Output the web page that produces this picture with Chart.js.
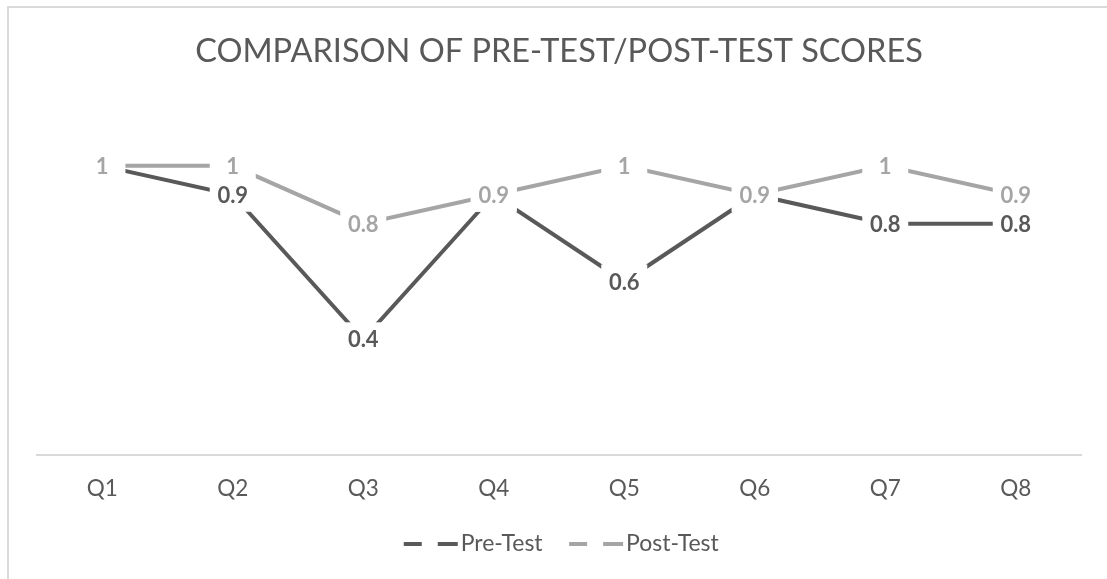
<!DOCTYPE html>
<html><head><meta charset="utf-8">
<script src="https://cdn.jsdelivr.net/npm/chart.js@4.4.1/dist/chart.umd.min.js"></script>
<style>
html,body{margin:0;padding:0;background:#fff;overflow:hidden;}
#wrap{position:relative;width:1107px;height:579px;overflow:hidden;}
#frame{position:absolute;left:7px;top:6px;width:1300px;height:800px;border:2px solid #d9d9d9;box-sizing:border-box;}
#c{position:absolute;left:0;top:0;}
</style></head><body>
<div id="wrap"><div id="frame"></div><canvas id="c" width="1107" height="579"></canvas></div>
<script>
const categories = ['Q1','Q2','Q3','Q4','Q5','Q6','Q7','Q8'];
const preTest = [1, 0.9, 0.4, 0.9, 0.6, 0.9, 0.8, 0.8];
const postTest = [1, 1, 0.8, 0.9, 1, 0.9, 1, 0.9];
const seriesNames = ['Pre-Test', 'Post-Test'];
const chartTitle = 'COMPARISON OF PRE-TEST/POST-TEST SCORES';

const PRE_COLOR = '#595959';
const POST_COLOR = '#a5a5a5';
const FONT = 'Lato';

function legendKey(color){
  const c = document.createElement('canvas');
  c.width = 73; c.height = 4;
  const g = c.getContext('2d');
  g.fillStyle = color;
  g.fillRect(16, 0, 18, 4);
  g.fillRect(50, 0, 20, 4);
  return c;
}

const dataLabels = {
  id: 'dataLabels',
  afterDatasetsDraw(chart){
    const ctx = chart.ctx;
    ctx.save();
    chart.data.datasets.forEach((ds, di) => {
      const meta = chart.getDatasetMeta(di);
      meta.data.forEach((pt, i) => {
        const x = pt.x, y = pt.y;
        ctx.fillStyle = '#ffffff';
        ctx.fillRect(x - 23, y - 17, 46, 34);
        ctx.fillStyle = ds.borderColor;
        ctx.font = 'bold 22px ' + FONT;
        ctx.textAlign = 'center';
        ctx.textBaseline = 'middle';
        ctx.fillText(String(ds.data[i]), x, y + 1);
      });
    });
    ctx.restore();
  }
};

new Chart(document.getElementById('c'), {
  type: 'line',
  data: {
    labels: categories,
    datasets: [
      { label: seriesNames[0], data: preTest, borderColor: PRE_COLOR, backgroundColor: PRE_COLOR, borderWidth: 4, pointRadius: 0, tension: 0, pointStyle: legendKey(PRE_COLOR) },
      { label: seriesNames[1], data: postTest, borderColor: POST_COLOR, backgroundColor: POST_COLOR, borderWidth: 4, pointRadius: 0, tension: 0, pointStyle: legendKey(POST_COLOR) }
    ]
  },
  options: {
    responsive: false,
    animation: false,
    devicePixelRatio: 1,
    layout: { padding: { left: 37, right: 26, top: 0, bottom: 14 } },
    scales: {
      x: {
        offset: true,
        grid: { display: false, drawTicks: false },
        border: { display: true, color: '#d9d9d9', width: 2 },
        ticks: { color: '#595959', font: { family: FONT, size: 22.5 }, padding: 20 },
        afterFit(scale){ scale.height = 55; }
      },
      y: {
        display: false,
        min: 0, max: 1.2
      }
    },
    plugins: {
      title: {
        display: true, text: chartTitle, color: '#595959',
        font: { family: FONT, size: 32.5, weight: 'normal' },
        padding: { top: 32, bottom: 37 }
      },
      legend: {
        position: 'bottom',
        labels: {
          usePointStyle: true, pointStyleWidth: 50, boxHeight: 4,
          color: '#595959', font: { family: FONT, size: 23 }, padding: 22
        }
      },
      tooltip: { enabled: false }
    }
  },
  plugins: [dataLabels]
});
</script>
</body></html>
